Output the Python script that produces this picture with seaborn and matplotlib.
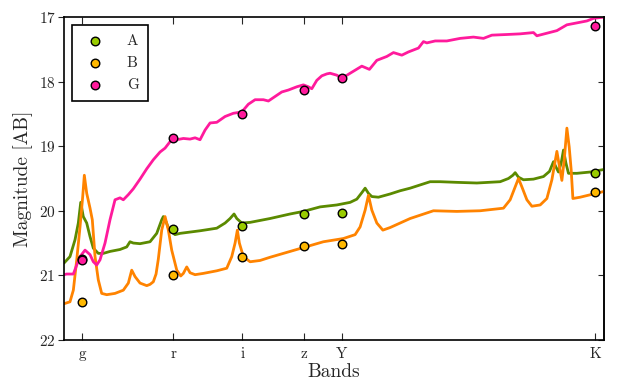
import numpy as np
import pandas as pd
import matplotlib
matplotlib.use("Agg")
import matplotlib.pyplot as plt
from matplotlib.ticker import NullLocator
import seaborn as sns

# band centres (Angstrom) and labels
bands = ["g", "r", "i", "z", "Y", "K"]
band_wave = [4750, 6230, 7650, 9190, 10300, 21900]

# photometry per object (AB mag)
mag_A = [20.74, 20.29, 20.23, 20.05, 20.04, 19.41]
mag_B = [21.41, 20.99, 20.71, 20.55, 20.52, 19.71]
mag_G = [20.76, 18.87, 18.50, 18.13, 17.95, 17.14]

# template spectra
wave_A = [4500, 4581, 4650, 4696, 4730, 4766, 4815, 4863, 4911, 4984, 5059, 5161,
          5317, 5425, 5478, 5532, 5644, 5815, 5932, 6021, 6050, 6099, 6159, 6265,
          6359, 6454, 6749, 7094, 7272, 7381, 7469, 7530, 7643, 7834, 8071, 8316,
          8826, 9183, 9652, 10145, 10555, 10768, 10929, 11038, 11147, 11260, 11484,
          11891, 12251, 12622, 13397, 13802, 14507, 15397, 16505, 16918, 17142,
          17260, 17430, 17692, 18227, 18779, 19118, 19347, 19486, 19637, 19796,
          19932, 20075, 20231, 20745, 21583, 22500]
spec_A = [20.81, 20.71, 20.45, 20.19, 19.87, 20.09, 20.19, 20.40, 20.58, 20.66, 20.66, 20.63,
          20.60, 20.56, 20.48, 20.50, 20.51, 20.48, 20.35, 20.14, 20.09, 20.17, 20.30, 20.37,
          20.35, 20.34, 20.31, 20.27, 20.19, 20.12, 20.05, 20.12, 20.19, 20.18, 20.15, 20.12,
          20.05, 20.01, 19.94, 19.91, 19.87, 19.82, 19.72, 19.65, 19.73, 19.78, 19.79,
          19.74, 19.69, 19.65, 19.55, 19.55, 19.56, 19.57, 19.55, 19.50, 19.45,
          19.41, 19.48, 19.52, 19.51, 19.47, 19.39, 19.24, 19.32, 19.40, 19.26,
          19.06, 19.26, 19.42, 19.42, 19.40, 19.36]

wave_B = [4500, 4581, 4627, 4674, 4720, 4758, 4781, 4815, 4863, 4896, 4936, 4984,
          5035, 5111, 5239, 5370, 5451, 5506, 5561, 5644, 5758, 5815, 5872, 5920,
          5960, 6021, 6081, 6141, 6203, 6297, 6372, 6422, 6487, 6551, 6650, 6816,
          7094, 7308, 7418, 7492, 7543, 7588, 7679, 7834, 8071, 8316, 8826, 9183,
          9747, 10346, 10713, 10874, 11038, 11147, 11260, 11429, 11636, 11891, 12251,
          12622, 13529, 14507, 15550, 16668, 17004, 17260, 17430, 17608, 17872,
          18141, 18595, 18970, 19255, 19544, 19696, 19837, 19974, 20135, 20274,
          20395, 20498, 20949, 21797, 22500]
spec_B = [21.44, 21.41, 21.23, 20.76, 20.25, 19.78, 19.45, 19.73, 19.96, 20.14, 20.71, 21.07,
          21.28, 21.30, 21.28, 21.23, 21.12, 20.92, 21.02, 21.12, 21.16, 21.14, 21.10, 20.98,
          20.75, 20.30, 20.09, 20.30, 20.61, 20.92, 21.01, 20.97, 20.87, 20.96, 20.99, 20.97,
          20.93, 20.89, 20.71, 20.50, 20.30, 20.50, 20.71, 20.79, 20.77, 20.72, 20.63, 20.57,
          20.48, 20.43, 20.37, 20.25, 19.99, 19.76, 19.99, 20.19, 20.30, 20.26, 20.19,
          20.12, 20.00, 20.01, 20.00, 19.96, 19.83, 19.63, 19.50, 19.63, 19.83,
          19.93, 19.91, 19.81, 19.52, 19.08, 19.32, 19.53, 19.22, 18.72, 19.01,
          19.37, 19.81, 19.79, 19.74, 19.70]

wave_G = [4500, 4536, 4627, 4674, 4720, 4791, 4863, 4911, 4961, 5010, 5085, 5161,
          5239, 5317, 5370, 5451, 5532, 5644, 5758, 5872, 5991, 6081, 6172, 6297,
          6422, 6551, 6650, 6749, 6851, 6954, 7094, 7272, 7454, 7643, 7794, 7952,
          8151, 8274, 8440, 8610, 8782, 9004, 9183, 9321, 9416, 9557, 9701, 9847,
          9943, 10145, 10297, 10555, 10929, 11180, 11429, 11775, 12009, 12313, 12558,
          12938, 13132, 13266, 13598, 14080, 14651, 15242, 15703, 16102, 16838,
          17518, 18227, 18413, 18970, 19544, 20135, 20745, 21372, 21797, 22500]
spec_G = [20.99, 20.98, 20.98, 20.84, 20.71, 20.61, 20.68, 20.79, 20.84, 20.76, 20.50, 20.14,
          19.83, 19.80, 19.83, 19.75, 19.66, 19.51, 19.35, 19.21, 19.09, 19.03, 18.93, 18.90,
          18.88, 18.89, 18.87, 18.90, 18.75, 18.64, 18.63, 18.54, 18.49, 18.47, 18.35, 18.28,
          18.28, 18.30, 18.23, 18.16, 18.13, 18.08, 18.05, 18.08, 18.11, 17.98, 17.91, 17.88,
          17.87, 17.90, 17.95, 17.87, 17.76, 17.81, 17.67, 17.61, 17.55, 17.59, 17.54,
          17.48, 17.38, 17.40, 17.37, 17.37, 17.33, 17.31, 17.33, 17.28, 17.27,
          17.26, 17.24, 17.29, 17.25, 17.21, 17.12, 17.09, 17.06, 17.02, 17.00]

objects = ["A", "B", "G"]
line_colors = {"A": "#5b8a00", "B": "#ff8300", "G": "#ff1a9c"}
point_colors = {"A": "#99cc00", "B": "#ffb800", "G": "#ff1a9c"}

spectra = pd.concat([
    pd.DataFrame({"wave": wave_A, "mag": spec_A, "obj": "A"}),
    pd.DataFrame({"wave": wave_B, "mag": spec_B, "obj": "B"}),
    pd.DataFrame({"wave": wave_G, "mag": spec_G, "obj": "G"}),
])
phot = pd.DataFrame({
    "wave": band_wave * 3,
    "mag": mag_A + mag_B + mag_G,
    "obj": ["A"] * 6 + ["B"] * 6 + ["G"] * 6,
})

sns.set_style("ticks")
plt.rcParams["font.family"] = "cmr10"
plt.rcParams["mathtext.fontset"] = "cm"
plt.rcParams["axes.formatter.use_mathtext"] = True

fig, ax = plt.subplots(figsize=(6.4, 3.88), dpi=100)
fig.subplots_adjust(left=0.1, right=0.944, bottom=0.124, top=0.956)

for o in objects:
    sub = spectra[spectra.obj == o]
    sns.lineplot(data=sub, x="wave", y="mag", color=line_colors[o], lw=2,
                 estimator=None, sort=False, legend=False, ax=ax)
for o in objects:
    sub = phot[phot.obj == o]
    sns.scatterplot(data=sub, x="wave", y="mag", color=point_colors[o], s=38,
                    edgecolor="black", linewidth=1, zorder=3, label=o, ax=ax)

ax.set_xscale("log")
ax.set_xlim(4500, 22500)
ax.set_ylim(22, 17)
ax.set_xticks(band_wave)
ax.set_xticklabels(bands)
ax.xaxis.set_minor_locator(NullLocator())
ax.set_yticks([17, 18, 19, 20, 21, 22])
ax.tick_params(axis="x", direction="in", top=True, length=5, width=0.8,
               labelsize=11, pad=5)
ax.tick_params(axis="y", direction="out", right=False, length=4, width=0.8,
               labelsize=11, pad=2)
ax2 = ax.secondary_yaxis("right")
ax2.set_yticks([17, 18, 19, 20, 21, 22])
ax2.tick_params(direction="in", length=4, width=0.8, labelright=False)
ax2.spines["right"].set_linewidth(1.2)
for sp in ax.spines.values():
    sp.set_linewidth(1.2)
    sp.set_color("black")

ax.set_xlabel("Bands", fontsize=14, labelpad=2)
ax.set_ylabel("Magnitude [AB]", fontsize=14, labelpad=4)

leg = ax.legend(loc="upper left", scatterpoints=1, fontsize=11, frameon=True,
                fancybox=False, framealpha=1, edgecolor="black",
                labelspacing=0.55, handlelength=1.8, handletextpad=1.2,
                borderpad=0.6, borderaxespad=0.5)
leg.get_frame().set_linewidth(1.2)

plt.savefig("out.png", dpi=100)
